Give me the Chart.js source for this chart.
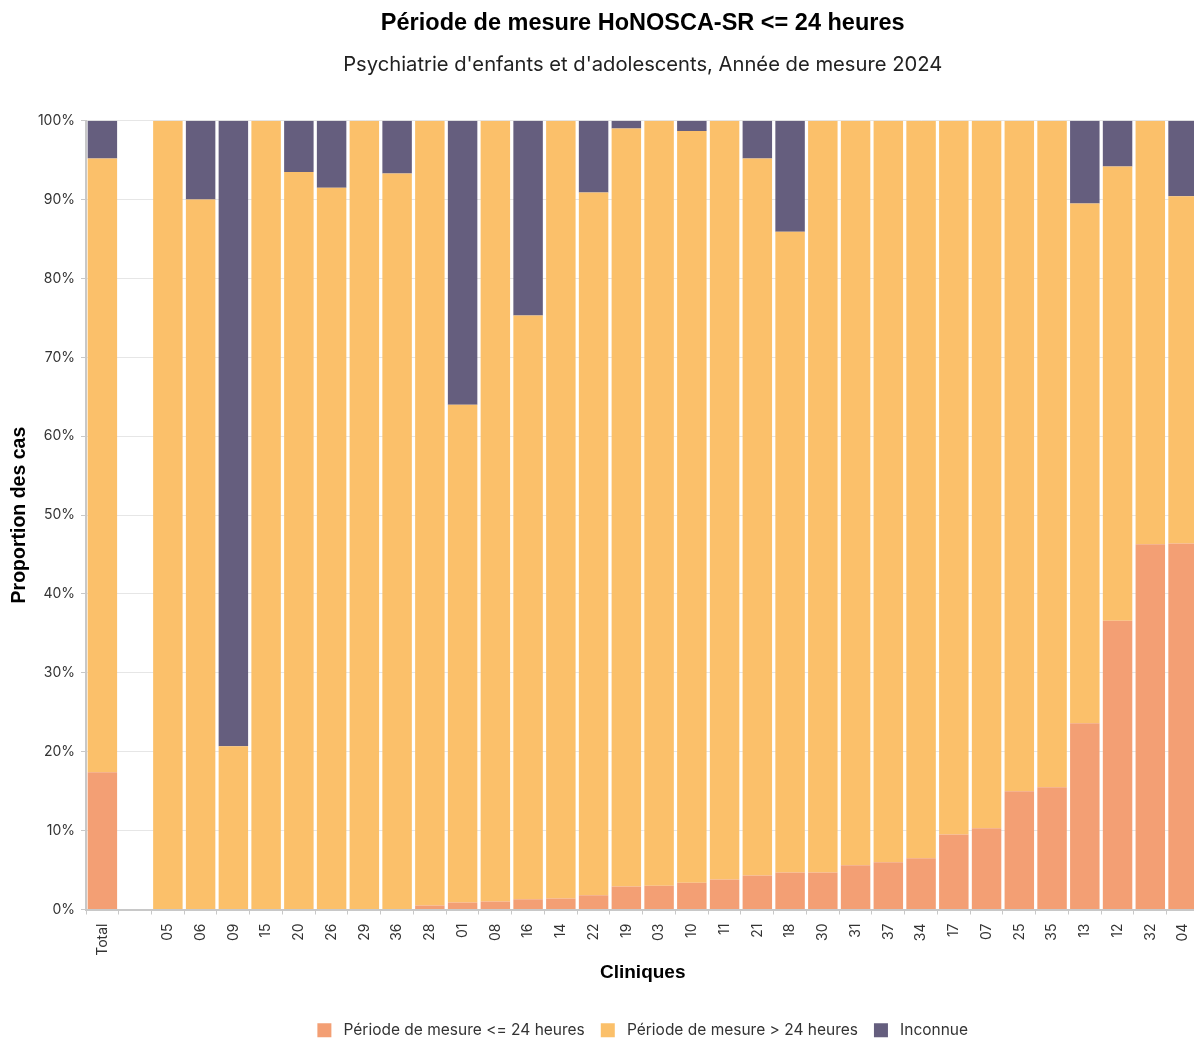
<!DOCTYPE html>
<html>
<head>
<meta charset="utf-8">
<script src="https://cdn.jsdelivr.net/npm/chart.js@4/dist/chart.umd.min.js"></script>
<style>
html,body{margin:0;padding:0;background:#fff;overflow:hidden;}
#wrap{width:1209px;height:1048px;position:relative;}
</style>
</head>
<body>
<div id="wrap"><canvas id="c"></canvas></div>
<script>
const categories = ['Total','','05','06','09','15','20','26','29','36','28','01','08','16','14','22','19','03','10','11','21','18','30','31','37','34','17','07','25','35','13','12','32','04'];
const le24 = [17.4,null,0,0,0,0,0,0,0,0,0.5,0.9,1.0,1.3,1.4,1.8,2.9,3.0,3.4,3.8,4.3,4.7,4.7,5.6,6.0,6.5,9.5,10.3,15.0,15.5,23.6,36.6,46.3,46.4];
const gt24 = [77.8,null,100,90.0,20.7,100,93.5,91.5,100,93.3,99.5,63.1,99.0,74.0,98.6,89.1,96.1,97.0,95.3,96.2,90.9,81.2,95.3,94.4,94.0,93.5,90.5,89.7,85.0,84.5,65.9,57.6,53.7,44.0];
const unknown = [4.8,null,0,10.0,79.3,0,6.5,8.5,0,6.7,0,36.0,0,24.7,0,9.1,1.0,0,1.3,0,4.8,14.1,0,0,0,0,0,0,0,0,10.5,5.8,0,9.6];
const seriesNames = ['Période de mesure <= 24 heures','Période de mesure > 24 heures','Inconnue'];
const colors = ['#F39F74','#FBC06A','#655E7E'];
const titleText = 'Période de mesure HoNOSCA-SR <= 24 heures';
const subtitleText = "Psychiatrie d'enfants et d'adolescents, Année de mesure 2024";

Chart.defaults.font.family = 'Inter, "Noto Sans", sans-serif';
Chart.defaults.color = '#333';

new Chart(document.getElementById('c'), {
  type: 'bar',
  data: {
    labels: categories,
    datasets: [le24, gt24, unknown].map((d, i) => ({
      label: seriesNames[i],
      data: d,
      backgroundColor: colors[i],
      borderWidth: 0,
      barPercentage: 0.9,
      categoryPercentage: 1.0
    }))
  },
  options: {
    responsive: true,
    maintainAspectRatio: false,
    animation: false,
    devicePixelRatio: 1,
    layout: { padding: 0 },
    plugins: {
      title: {
        display: true, text: titleText, fullSize: false,
        font: { family: '"Liberation Sans", Arial, sans-serif', size: 23.5, weight: 'bold' },
        color: '#000', padding: { top: 9, bottom: 0 }
      },
      subtitle: {
        display: true, text: subtitleText, fullSize: false,
        font: { family: 'Inter, sans-serif', size: 20.2 },
        color: '#222', padding: { top: 16, bottom: 43.2 }
      },
      legend: {
        position: 'bottom', fullSize: false,
        labels: {
          boxWidth: 14, boxHeight: 14, padding: 16,
          font: { size: 15.5 }, color: '#333',
          generateLabels(chart) {
            const items = Chart.defaults.plugins.legend.labels.generateLabels(chart);
            items.forEach(it => { it.text = ' ' + it.text; it.lineWidth = 0; });
            return items;
          }
        }
      },
      tooltip: { enabled: false }
    },
    scales: {
      x: {
        stacked: true,
        grid: { display: true, drawOnChartArea: false, drawTicks: true, tickLength: 5, tickColor: '#c8c8c8' },
        border: { color: '#c8c8c8', width: 2 },
        ticks: { autoSkip: false, maxRotation: 90, minRotation: 90, padding: 9, font: { size: 14 }, color: '#333' },
        title: {
          display: true, text: 'Cliniques',
          font: { family: '"Liberation Sans", Arial, sans-serif', size: 19, weight: 'bold' },
          color: '#000', padding: { top: 4, bottom: 22 }
        },
        afterFit(scale) { scale.height = 97; }
      },
      y: {
        stacked: true, min: 0, max: 100,
        grid: { color: '#e6e6e6', lineWidth: 1, tickLength: 5, tickColor: '#c8c8c8' },
        border: { color: '#c8c8c8', width: 2 },
        ticks: { stepSize: 10, padding: 6, font: { size: 14 }, color: '#333', callback: v => v + '%' },
        title: {
          display: true, text: 'Proportion des cas',
          font: { family: '"Liberation Sans", Arial, sans-serif', size: 19.5, weight: 'bold' },
          color: '#000', padding: { top: 8, bottom: 0 }
        },
        afterFit(scale) { scale.width = 86; }
      }
    }
  }
});
</script>
</body>
</html>
